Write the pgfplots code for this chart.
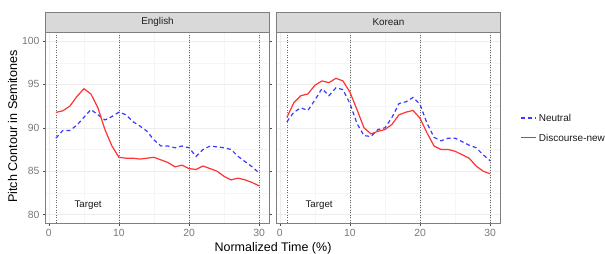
\documentclass[border=0pt]{standalone}
\usepackage{fontspec}
\setmainfont{Liberation Sans}
\usepackage{pgfplots}
\pgfplotsset{compat=1.18}
\definecolor{redl}{HTML}{FF3333}
\definecolor{bluel}{HTML}{3A3AFF}
\definecolor{stripfill}{HTML}{D9D9D9}
\definecolor{borderc}{HTML}{7F7F7F}
\definecolor{tickc}{HTML}{4D4D4D}
\definecolor{vlinec}{HTML}{666666}

\pgfplotstableread{
x neutral dnew
1 88.8 91.77
2 89.7 91.96
3 89.7 92.5
4 90.3 93.6
5 91.2 94.5
6 92.1 93.9
7 91.5 92.3
8 90.9 89.8
9 91.3 87.9
10 91.8 86.6
11 91.5 86.5
12 90.7 86.5
13 90.2 86.4
14 89.6 86.5
15 88.6 86.6
16 87.9 86.3
17 87.9 86.0
18 87.7 85.5
19 87.9 85.7
20 87.7 85.3
21 86.7 85.2
22 87.5 85.6
23 87.9 85.3
24 87.8 85.0
25 87.7 84.4
26 87.5 84.0
27 86.7 84.2
28 86.1 84.0
29 85.5 83.7
30 84.8 83.3
}\english

\pgfplotstableread{
x neutral dnew
1 90.7 91.2
2 91.8 92.9
3 92.3 93.7
4 92.0 93.9
5 93.2 94.9
6 94.5 95.4
7 93.7 95.2
8 94.6 95.7
9 94.4 95.4
10 92.8 94.1
11 90.5 92.1
12 89.1 90.0
13 89.0 89.3
14 89.8 89.6
15 90.0 89.8
16 91.2 90.4
17 92.8 91.5
18 93.0 91.8
19 93.5 92.0
20 92.7 91.1
21 90.5 89.4
22 88.9 87.9
23 88.5 87.5
24 88.8 87.5
25 88.8 87.3
26 88.4 86.9
27 88.0 86.5
28 87.7 85.6
29 86.9 85.0
30 86.2 84.7
}\korean

\pgfplotsset{
  panel/.style={
    scale only axis, width=223.6pt, height=191pt,
    anchor=south west,
    xmin=-0.45, xmax=31.45, ymin=79, ymax=101,
    xtick={0,10,20,30}, ytick={80,85,90,95,100},
    minor xtick={5,15,25}, minor ytick={82.5,87.5,92.5,97.5},
    grid=both,
    major grid style={gray!14, line width=0.5pt},
    minor grid style={gray!8, line width=0.3pt},
    axis line style={borderc, line width=0.6pt},
    tick align=outside, major tick length=2.7pt, minor tick length=0pt,
    tick style={tickc, line width=0.5pt},
    ticklabel style={font=\fontsize{10.4}{12}\selectfont, text=tickc!75!white},
    /pgf/number format/assume math mode=true,
  },
}

\begin{document}
\begin{tikzpicture}
\useasboundingbox (0pt,0pt) rectangle (605pt,254pt);

\begin{axis}[panel, name=eng, at={(45.7pt,30.7pt)}]
  \addplot[vlinec, line width=0.5pt, dash pattern=on 0.9pt off 1.6pt, forget plot] coordinates {(1,79) (1,101)};
  \addplot[vlinec, line width=0.5pt, dash pattern=on 0.9pt off 1.6pt, forget plot] coordinates {(10,79) (10,101)};
  \addplot[vlinec, line width=0.5pt, dash pattern=on 0.9pt off 1.6pt, forget plot] coordinates {(20,79) (20,101)};
  \addplot[vlinec, line width=0.5pt, dash pattern=on 0.9pt off 1.6pt, forget plot] coordinates {(30,79) (30,101)};
  \addplot[bluel, line width=1.2pt, dash pattern=on 4pt off 3pt] table[x=x, y=neutral] {\english};
  \addplot[redl, line width=1.2pt] table[x=x, y=dnew] {\english};
  \node[font=\fontsize{9.7}{11}\selectfont, text=black!90] at (axis cs:5.6,81.1) {Target};
\end{axis}

\begin{axis}[panel, name=kor, at={(276.7pt,30.7pt)}, clip=false,
  yticklabels={}, y tick style={draw=none}]
  \addplot[vlinec, line width=0.5pt, dash pattern=on 0.9pt off 1.6pt, forget plot] coordinates {(1,79) (1,101)};
  \addplot[vlinec, line width=0.5pt, dash pattern=on 0.9pt off 1.6pt, forget plot] coordinates {(10,79) (10,101)};
  \addplot[vlinec, line width=0.5pt, dash pattern=on 0.9pt off 1.6pt, forget plot] coordinates {(20,79) (20,101)};
  \addplot[vlinec, line width=0.5pt, dash pattern=on 0.9pt off 1.6pt, forget plot] coordinates {(30,79) (30,101)};
  \addplot[bluel, line width=1.2pt, dash pattern=on 4pt off 3pt] table[x=x, y=neutral] {\korean};
  \addplot[redl, line width=1.2pt] table[x=x, y=dnew] {\korean};
  % legend keys
  \addplot[bluel, line width=1.2pt, dash pattern=on 4pt off 3pt, forget plot] coordinates {(34.43,91.12) (36.55,91.12)};
  \addplot[draw={rgb,255:red,255;green,40;blue,40}, line width=1.4pt, solid, forget plot] coordinates {(34.43,88.9) (36.55,88.9)};
  \node[anchor=west, inner sep=0pt, font=\fontsize{10}{12}\selectfont, text=black!90] at (axis cs:36.92,91.12) {Neutral};
  \node[anchor=west, inner sep=0pt, font=\fontsize{10}{12}\selectfont, text=black!90] at (axis cs:36.92,88.88) {Discourse-new};
  \node[font=\fontsize{9.7}{11}\selectfont, text=black!90] at (axis cs:5.6,81.1) {Target};
\end{axis}

\draw[borderc, fill=stripfill, line width=0.6pt] (eng.north west) rectangle ([yshift=20pt]eng.north east);
\node[font=\fontsize{9.9}{11}\selectfont, text=black!88] at ([yshift=10pt]eng.north) {English};
\draw[borderc, fill=stripfill, line width=0.6pt] (kor.north west) rectangle ([yshift=20pt]kor.north east);
\node[font=\fontsize{9.9}{11}\selectfont, text=black!88] at ([yshift=10pt]kor.north) {Korean};

\node[font=\fontsize{12.5}{14}\selectfont] at (273pt,5.7pt) {Normalized Time (\%)};
\node[font=\fontsize{12.6}{14}\selectfont, rotate=90] at (12.7pt,127.5pt) {Pitch Contour in Semitones};
\end{tikzpicture}
\end{document}
